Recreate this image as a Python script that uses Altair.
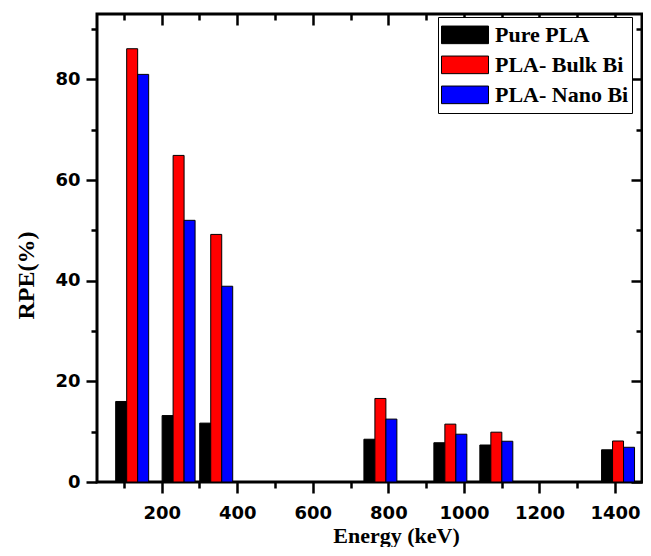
import altair as alt
import pandas as pd

# ---- data ----
energies = [121.8, 244.7, 344.3, 778.9, 964.1, 1085.8, 1408.0]
series = ["Pure PLA", "PLA- Bulk Bi", "PLA- Nano Bi"]
pure_pla = [16.0, 13.2, 11.7, 8.5, 7.8, 7.35, 6.4]
bulk_bi = [86.1, 64.9, 49.2, 16.6, 11.5, 9.9, 8.15]
nano_bi = [81.0, 52.0, 38.9, 12.5, 9.5, 8.1, 6.9]
colors = ["#000000", "#ff0000", "#0000ff"]

x_major = [200, 400, 600, 800, 1000, 1200, 1400]
x_minor = [100, 300, 500, 700, 900, 1100, 1300]
y_major = [0, 20, 40, 60, 80]
y_minor = [10, 30, 50, 70, 90]

rows = []
for name, vals, idx in zip(series, [pure_pla, bulk_bi, nano_bi], range(3)):
    for e, v in zip(energies, vals):
        rows.append({"energy": e, "series": name, "idx": idx, "rpe": v})
df = pd.DataFrame(rows)

BW = 29.1  # bar width in keV
W, H = 545, 468
xscale = alt.Scale(domain=[28.7, 1471.4], nice=False, zero=False)
yscale = alt.Scale(domain=[0, 93], nice=False)

base = alt.Chart(df).transform_calculate(
    x0=f"datum.energy + (datum.idx - 1.5) * {BW}",
    x1=f"datum.energy + (datum.idx - 0.5) * {BW}",
)

tick_common = dict(ticks=True, tickColor="black", tickWidth=2.5, tickOpacity=1,
                   domain=False, grid=False)

ax_x_bottom = alt.Axis(
    orient="bottom", values=x_major, tickSize=11, labelPadding=11, format="d",
    labelFont="DejaVu Sans", labelFontWeight="bold", labelFontSize=18,
    labelColor="black", labelFlush=False,
    title="Energy (keV)", titleFont="Liberation Serif", titleFontWeight="bold",
    titleFontSize=22, titleColor="black", titleX=299, titleY=60,
    titleAlign="center", titleBaseline="alphabetic", **tick_common,
)
ax_y_left = alt.Axis(
    orient="left", values=y_major, tickSize=11, labelPadding=6, format="d",
    labelFont="DejaVu Sans", labelFontWeight="bold", labelFontSize=18,
    labelColor="black",
    title="RPE(%)", titleFont="Liberation Serif", titleFontWeight="bold",
    titleFontSize=24, titleColor="black", titleX=-64, titleY=261,
    titleAngle=270, titleAlign="center", titleBaseline="alphabetic",
    **tick_common,
)

bars = base.mark_bar(stroke="black", strokeWidth=1).encode(
    x=alt.X("x0:Q", scale=xscale, axis=ax_x_bottom),
    x2="x1:Q",
    y=alt.Y("rpe:Q", scale=yscale, axis=ax_y_left),
    y2=alt.datum(0),
    color=alt.Color(
        "series:N",
        scale=alt.Scale(domain=series, range=colors),
        legend=alt.Legend(
            orient="none", legendX=341, legendY=3, title=None,
            symbolType="M-1,-0.375H1V0.375H-1Z", symbolSize=2209,
            symbolStrokeColor="black", symbolStrokeWidth=1, symbolOpacity=1,
            clipHeight=29.7, rowPadding=0, labelOffset=6,
            labelFont="Liberation Serif", labelFontWeight="bold",
            labelFontSize=22, labelColor="black", labelLimit=300,
            fillColor="white", strokeColor="black", padding=3,
        ),
    ),
)


def ghost(xaxis, yaxis):
    return base.mark_bar(opacity=0).encode(
        x=alt.X("x0:Q", scale=xscale, axis=xaxis),
        x2="x1:Q",
        y=alt.Y("rpe:Q", scale=yscale, axis=yaxis),
        y2=alt.datum(0),
    )


minor_bl = ghost(
    alt.Axis(orient="bottom", values=x_minor, tickSize=6, labels=False, title=None, **tick_common),
    alt.Axis(orient="left", values=y_minor, tickSize=6, labels=False, title=None, **tick_common),
)
major_tr = ghost(
    alt.Axis(orient="top", values=x_major, tickSize=11, offset=-11, labels=False, title=None, **tick_common),
    alt.Axis(orient="right", values=y_major, tickSize=11, offset=-11, labels=False, title=None, **tick_common),
)
minor_tr = ghost(
    alt.Axis(orient="top", values=x_minor, tickSize=6, offset=-6, labels=False, title=None, **tick_common),
    alt.Axis(orient="right", values=y_minor, tickSize=6, offset=-6, labels=False, title=None, **tick_common),
)

chart = (
    alt.layer(bars, minor_bl, major_tr, minor_tr)
    .resolve_axis(x="independent", y="independent")
    .properties(
        width=W, height=H,
        autosize=alt.AutoSizeParams(type="none"),
        padding={"left": 89, "top": 6, "right": 1, "bottom": 65},
        background="white",
    )
    .configure_view(stroke="black", strokeWidth=3)
)

chart.save("out.html", embed_options={"renderer": "svg", "actions": False})
